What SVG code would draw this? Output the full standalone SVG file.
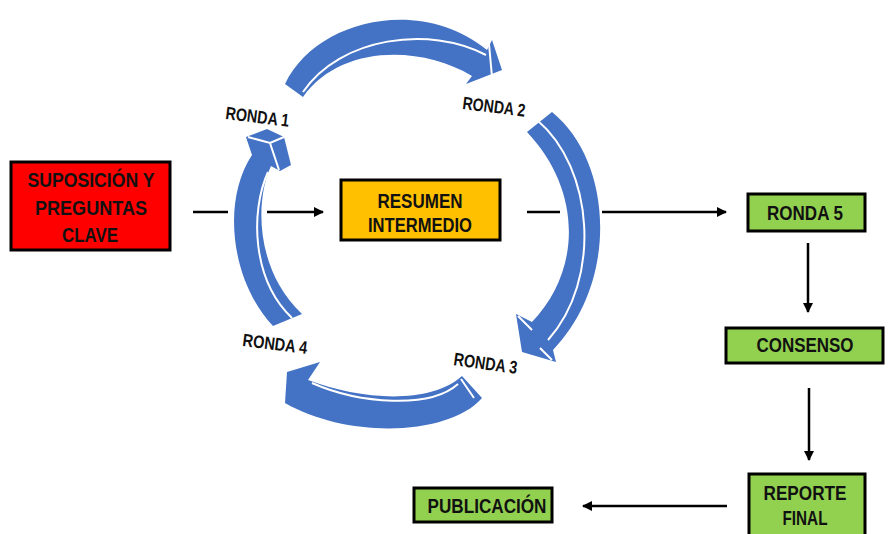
<svg xmlns="http://www.w3.org/2000/svg" width="891" height="534" viewBox="0 0 891 534">
<style>
.box{stroke:#000;stroke-width:3}
.t{font-family:"Liberation Sans",Arial,sans-serif;font-weight:bold;font-size:20px;fill:#111;text-anchor:middle}
.lbl{font-family:"Liberation Sans",Arial,sans-serif;font-weight:bold;font-size:18px;fill:#111}
.arc{fill:#4472C4}
.hl{fill:none;stroke:#fff;stroke-width:2}
.ln{stroke:#000;stroke-width:2.5;fill:none}
</style>
<defs>
<marker id="ah" viewBox="0 0 10 10" refX="9" refY="5" markerWidth="4" markerHeight="4" orient="auto" markerUnits="strokeWidth">
<path d="M0,0 L10,5 L0,10 Z" fill="#000"/>
</marker>
</defs>
<rect width="891" height="534" fill="#fff"/>

<g id="cycle">
<g id="arc-top">
<path class="arc" d="M285,84 C315,20 420,-5 487,50 L492,40 L502,70 L466,84 L472,76 C420,45 340,45 303,97 Z"/>
<path class="hl" d="M303,92 C340,37 430,25 486,55"/>
<path class="hl" d="M489,44 L492,77"/>
</g>
<g id="arc-right">
<path class="arc" d="M527,132 L552,112 C612,160 620,280 553,350 L556,362 L522,352 L516,314 L532,322 C582,270 582,190 527,132 Z"/>
<path class="hl" d="M537,120 C594,168 602,280 548,340"/>
<path class="hl" d="M518,316 L532,330 M540,348 L552,360"/>
</g>
<g id="arc-bottom">
<path class="arc" d="M462,376 L482,398 C450,435 350,440 285,403 L287,372 L320,362 L308,380 C360,400 430,405 462,376 Z"/>
<path class="hl" d="M312,383 C360,404 430,409 458,384"/>
<path class="hl" d="M461,379 L474,398"/>
</g>
<g id="arc-left">
<path class="arc" d="M273,326 C230,280 222,200 252,155 L246,137 L267,129 L284,137 L291,165 L280,171 L271,166 C255,200 255,270 302,314 Z"/>
<path class="hl" d="M268,172 C250,212 252,280 292,318"/>
<path class="hl" d="M248,137 L270,143 L284,137 M270,143 L279,170"/>
</g>
</g>

<g id="labels">
<text class="lbl" transform="rotate(7 225 119)" x="225" y="119" textLength="64" lengthAdjust="spacingAndGlyphs">RONDA 1</text>
<text class="lbl" transform="rotate(7 462 109)" x="462" y="109" textLength="63" lengthAdjust="spacingAndGlyphs">RONDA 2</text>
<text class="lbl" transform="rotate(8 453 365)" x="453" y="365" textLength="64" lengthAdjust="spacingAndGlyphs">RONDA 3</text>
<text class="lbl" transform="rotate(7 242 346)" x="242" y="346" textLength="65" lengthAdjust="spacingAndGlyphs">RONDA 4</text>
</g>

<g id="connectors">
<line class="ln" x1="193" y1="212" x2="228" y2="212"/>
<line class="ln" x1="267" y1="212" x2="323" y2="212" marker-end="url(#ah)"/>
<line class="ln" x1="527" y1="212" x2="560" y2="212"/>
<line class="ln" x1="602" y1="212" x2="726" y2="212" marker-end="url(#ah)"/>
<line class="ln" x1="808" y1="243" x2="808" y2="312" marker-end="url(#ah)"/>
<line class="ln" x1="809" y1="388" x2="809" y2="460" marker-end="url(#ah)"/>
<line class="ln" x1="727" y1="506" x2="583" y2="506" marker-end="url(#ah)"/>
</g>

<g id="suposicion">
<rect class="box" x="11" y="162" width="159" height="88" fill="#FF0000"/>
<text class="t" x="91" y="187" textLength="127" lengthAdjust="spacingAndGlyphs">SUPOSICIÓN Y</text>
<text class="t" x="91" y="215" textLength="112" lengthAdjust="spacingAndGlyphs">PREGUNTAS</text>
<text class="t" x="90" y="242" textLength="56" lengthAdjust="spacingAndGlyphs">CLAVE</text>
</g>
<g id="resumen">
<rect class="box" x="341" y="180" width="159" height="60" fill="#FFC000"/>
<text class="t" x="420" y="208" textLength="85" lengthAdjust="spacingAndGlyphs">RESUMEN</text>
<text class="t" x="420" y="232" textLength="104" lengthAdjust="spacingAndGlyphs">INTERMEDIO</text>
</g>
<g id="ronda5">
<rect class="box" x="748" y="194" width="117" height="37" fill="#92D050"/>
<text class="t" x="805" y="220" textLength="76" lengthAdjust="spacingAndGlyphs">RONDA 5</text>
</g>
<g id="consenso">
<rect class="box" x="726" y="328" width="157" height="35" fill="#92D050"/>
<text class="t" x="805" y="352" textLength="97" lengthAdjust="spacingAndGlyphs">CONSENSO</text>
</g>
<g id="reporte">
<rect class="box" x="749" y="474" width="116" height="62" fill="#92D050"/>
<text class="t" x="805" y="500" textLength="83" lengthAdjust="spacingAndGlyphs">REPORTE</text>
<text class="t" x="805" y="525" textLength="45" lengthAdjust="spacingAndGlyphs">FINAL</text>
</g>
<g id="publicacion">
<rect class="box" x="414" y="488" width="138" height="34" fill="#92D050"/>
<text class="t" x="487" y="513" textLength="119" lengthAdjust="spacingAndGlyphs">PUBLICACIÓN</text>
</g>
</svg>
